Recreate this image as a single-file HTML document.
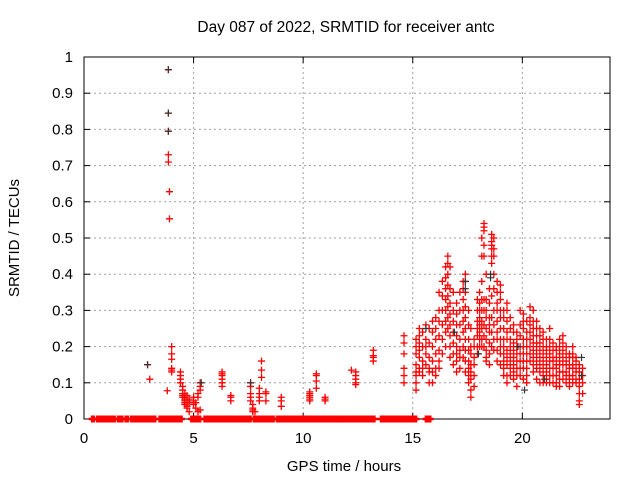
<!DOCTYPE html>
<html><head><meta charset="utf-8"><style>
body{margin:0;background:#fff}
svg{display:block;font-family:"Liberation Sans",sans-serif}
</style></head><body>
<svg id="chart" width="640" height="480" xmlns="http://www.w3.org/2000/svg">
<rect width="640" height="480" fill="#fff"/>
<text x="346" y="32" font-size="15.5" text-anchor="middle">Day 087 of 2022, SRMTID for receiver antc</text>
<g id="grid"></g>
<g id="axes"></g>
<g id="marks"></g>
<text x="344" y="471" font-size="15" text-anchor="middle">GPS time / hours</text>
<text x="19" y="238" font-size="15" text-anchor="middle" transform="rotate(-90 19 238)">SRMTID / TECUs</text>
</svg>
<script>
const xTicks=[0,5,10,15,20];
const yTicks=[0,0.1,0.2,0.3,0.4,0.5,0.6,0.7,0.8,0.9,1];
const yTickLabels=["0","0.1","0.2","0.3","0.4","0.5","0.6","0.7","0.8","0.9","1"];
const zeroX=[0.37,0.45,0.6,0.7,0.8,0.9,1.0,1.1,1.2,1.3,1.4,1.55,1.65,1.75,1.9,2.0,2.15,2.25,2.35,2.45,2.55,2.65,2.75,2.85,2.95,3.05,3.15,3.25,3.45,3.55,3.65,3.75,3.85,3.95,4.05,4.15,4.25,4.35,4.45,4.9,5.0,5.1,5.2,5.3,5.5,5.6,5.7,5.8,5.9,6.0,6.1,6.2,6.3,6.4,6.5,6.6,6.7,6.8,6.9,7.0,7.1,7.2,7.3,7.4,7.5,7.6,7.75,7.85,7.95,8.05,8.15,8.25,8.35,8.45,8.55,8.65,8.8,8.9,9.0,9.1,9.2,9.3,9.4,9.5,9.6,9.7,9.8,9.9,10.0,10.1,10.2,10.3,10.4,10.5,10.6,10.7,10.8,10.9,11.0,11.1,11.2,11.3,11.4,11.5,11.6,11.65,11.75,11.85,11.95,12.05,12.15,12.25,12.35,12.45,12.55,12.65,12.75,12.85,12.95,13.05,13.15,13.25,13.55,13.65,13.75,13.85,13.95,14.05,14.15,14.25,14.35,14.45,14.55,14.65,14.75,14.85,14.95,15.05,15.15,15.6,15.7,15.8];
const redT=[2.9,3.0,3.8,3.85,3.9,4.0,4.4,4.5,4.6,4.7,4.8,5.0,5.1,5.2,5.3,6.3,6.7,7.6,7.7,7.8,8.0,8.1,8.3,9.0,10.3,10.6,11.0,12.2,12.4,13.2,14.6,
15.15,15.3,15.45,15.6,15.75,15.9,16.05,16.2,16.35,16.5,16.6,16.7,16.85,17.0,17.15,17.3,17.4,17.55,17.65,17.8,17.95,18.05,18.15,18.25,18.35,18.5,18.6,18.7,18.85,19.0,19.15,19.3,19.45,19.6,19.75,19.9,20.05,20.2,20.35,20.5,20.65,20.8,20.95,21.1,21.25,21.4,21.55,21.7,21.85,22.0,22.15,22.3,22.45,22.6,22.75];
const redY=[[.15],[.11],[.078],[.965,.845,.795,.73,.71],[.628,.553],[.2,.18,.165,.14,.135,.13],[.13,.12,.11,.10],[.09,.08,.07,.065,.06],[.055,.05,.045,.04,.07,.06],[.035,.03,.05,.065],[.02,.045,.055],[.04,.05,.06],[.045,.03],[.07,.06,.02],[.1,.09,.08,.025],[.13,.125,.12,.11,.1,.09],[.065,.06,.05],[.1,.09,.07,.06,.05],[.04,.03,.025,.02],[.02],[.06,.07,.085,.05],[.16,.135,.115],[.075,.07,.05],[.06,.05,.035],[.075,.07,.065,.06,.055,.05],[.125,.12,.105,.085],[.06,.055,.05],[.135],[.13,.12,.11,.1,.095],[.175,.17,.16,.19],[.23,.21,.18,.14,.12,.1],
[.22,.2,.18,.15,.13,.12,.1,.08],[.25,.23,.21,.19,.17,.14,.13],[.24,.2,.16,.14,.12],[.26,.22,.2,.18,.15],[.25,.21,.17,.14,.13,.1],[.27,.24,.2,.16,.13,.1],[.28,.25,.22,.18,.14,.12],[.35,.3,.27,.23,.19,.16,.14],[.38,.34,.3,.26,.22,.18],[.42,.39,.36,.33,.3,.27,.24,.2],[.45,.43,.4,.37,.34,.31,.28,.25],[.42,.36,.32,.29,.26,.23,.2,.17],[.35,.3,.27,.24,.21,.18,.15],[.32,.29,.26,.23,.2,.18,.16,.13],[.35,.3,.26,.22,.19,.17,.14],[.38,.36,.33,.3,.27,.24,.2,.17],[.4,.38,.35,.31,.28,.25,.22,.19,.16,.13],[.3,.26,.22,.19,.16,.14,.12,.1],[.25,.2,.18,.15,.13,.11,.08,.06],[.22,.2,.17,.15,.12,.09],[.33,.3,.27,.25,.23,.2,.18],[.35,.32,.3,.28,.26,.24,.22,.2],[.5,.45,.38,.33,.3,.27,.25,.22,.2],[.54,.53,.52,.48,.45,.33,.3,.26,.23,.2],[.4,.33,.3,.28,.25,.22,.19,.17,.16],[.36,.32,.28,.26,.24,.21,.18,.15],[.51,.49,.48,.47,.45,.43,.34,.28,.24,.2],[.5,.47,.45,.4,.36,.3,.26,.22,.19],[.38,.35,.32,.3,.27,.24,.22,.19,.16],[.37,.35,.33,.3,.28,.25,.22,.2,.18,.15],[.3,.28,.25,.22,.2,.18,.16,.14,.12],[.32,.3,.27,.24,.22,.19,.17,.15,.12,.1],[.28,.25,.22,.2,.18,.16,.14,.12],[.26,.24,.21,.19,.17,.15,.13,.11],[.24,.22,.2,.18,.16,.14,.12,.09],[.3,.26,.23,.2,.18,.16,.14,.12],[.29,.27,.25,.22,.2,.18,.16,.14,.11],[.27,.24,.22,.2,.18,.16,.14,.12,.1],[.31,.28,.26,.24,.22,.2,.18,.16],[.3,.27,.25,.23,.21,.19,.17,.15,.13],[.27,.25,.23,.21,.2,.18,.16,.14,.11],[.25,.23,.21,.19,.17,.15,.13,.1],[.24,.22,.2,.18,.16,.14,.12,.1],[.22,.2,.19,.17,.15,.13,.11,.1],[.25,.22,.2,.18,.16,.14,.12,.1],[.21,.19,.17,.16,.14,.12,.1],[.2,.19,.17,.15,.14,.12,.1,.09],[.22,.2,.18,.16,.15,.13,.11,.09],[.23,.21,.19,.17,.15,.13,.11],[.2,.18,.16,.15,.13,.12,.1],[.18,.17,.15,.14,.12,.11,.09],[.2,.18,.17,.15,.14,.12,.1],[.17,.16,.14,.13,.11,.1],[.15,.13,.11,.09,.07,.05,.04],[.14,.12,.1,.07]];
const blackX=[3.85,3.85,3.85,2.9,5.35,7.6,17.4,17.4,18.55,18.55,20.1,15.6,22.7,22.7,16.9,18.0,21.0,19.8];
const blackY=[.965,.845,.795,.15,.1,.1,.38,.36,.4,.39,.08,.25,.17,.12,.24,.18,.11,.2];

const L=84,R=610,T=57,B=419,XMAX=24;
const sx=v=>L+v/XMAX*(R-L);
const sy=v=>B-v*(B-T);
const NS="http://www.w3.org/2000/svg";
function mk(tag,attrs,parent){const e=document.createElementNS(NS,tag);for(const k in attrs)e.setAttribute(k,attrs[k]);parent.appendChild(e);return e;}
const grid=document.getElementById('grid'),axes=document.getElementById('axes'),marks=document.getElementById('marks');
xTicks.forEach(t=>{
  const x=sx(t);
  if(t>0){const g=mk('line',{x1:x,x2:x,y1:T,y2:B,stroke:'#a0a0a0','stroke-dasharray':'2,3'},grid);
  
  }
  const a=mk('line',{x1:x,x2:x,y1:B,y2:B-6,stroke:'#000'},axes);
  
  
  const b=mk('line',{x1:x,x2:x,y1:T,y2:T+6,stroke:'#000'},axes);
  
  
  const l=mk('text',{x:x,y:443,'font-size':15,'text-anchor':'middle'},axes);l.textContent=String(t);
  
  
});
yTicks.forEach((t,i)=>{
  const y=sy(t);
  if(t>0&&t<1){const g=mk('line',{x1:L,x2:R,y1:y,y2:y,stroke:'#a0a0a0','stroke-dasharray':'2,3'},grid);
  
  }
  const a=mk('line',{x1:L,x2:L+6,y1:y,y2:y,stroke:'#000'},axes);
  
  
  const b=mk('line',{x1:R,x2:R-6,y1:y,y2:y,stroke:'#000'},axes);
  
  
  const l=mk('text',{x:73,y:y+5,'font-size':15,'text-anchor':'end'},axes);l.textContent=yTickLabels[i];
  
  
});
const fr=mk('rect',{x:L,y:T,width:R-L,height:B-T,fill:'none',stroke:'#000'},axes);


function plus(x,y,c,w){
  const p=mk('path',{d:`M${x-3.5} ${y}H${x+3.5}M${x} ${y-3.5}V${y+3.5}`,stroke:c,'stroke-width':w,fill:'none'},marks);
  
  
}
zeroX.forEach(v=>plus(sx(v),sy(0),'#ff0000',2.5));
redT.forEach((t,i)=>redY[i].forEach(v=>plus(sx(t),sy(v),'#ff0000',1.3)));
blackX.forEach((t,i)=>plus(sx(t),sy(blackY[i]),'#333',1.2));
</script>
</body></html>
